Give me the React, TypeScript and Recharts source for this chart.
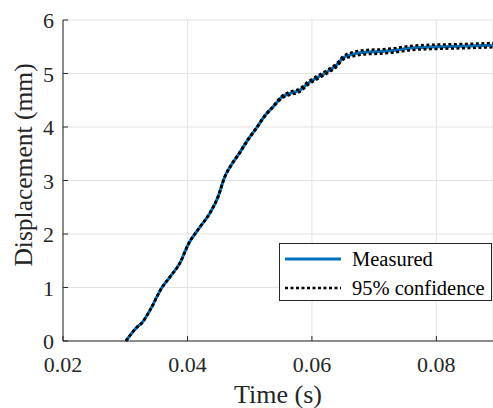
import { CartesianGrid, ComposedChart, Line, XAxis, YAxis } from "recharts";

// time (s)
const time = [
  0.0301, 0.0319, 0.0327, 0.034, 0.0359, 0.0372, 0.0388, 0.0401, 0.042, 0.0436,
  0.0449, 0.046, 0.0471, 0.0484, 0.0497, 0.0512, 0.0525, 0.0537, 0.0552, 0.0565,
  0.0581, 0.0594, 0.0602, 0.0624, 0.064, 0.065, 0.0666, 0.0688, 0.0709, 0.073,
  0.0762, 0.0801, 0.0838, 0.0891,
];
// displacement (mm)
const measured = [
  0, 0.26, 0.34, 0.58, 1.0, 1.2, 1.46, 1.8, 2.13, 2.39,
  2.69, 3.07, 3.3, 3.52, 3.76, 4.0, 4.22, 4.37, 4.56, 4.63,
  4.69, 4.82, 4.88, 5.03, 5.16, 5.29, 5.36, 5.4, 5.41, 5.43,
  5.48, 5.5, 5.51, 5.53,
];
const upper = [
  0, 0.26, 0.34, 0.58, 1.0, 1.2, 1.46, 1.8, 2.13, 2.39,
  2.7, 3.08, 3.31, 3.53, 3.77, 4.01, 4.23, 4.38, 4.58, 4.66,
  4.72, 4.85, 4.91, 5.06, 5.19, 5.32, 5.4, 5.44, 5.45, 5.47,
  5.52, 5.54, 5.55, 5.57,
];
const lower = [
  0, 0.26, 0.34, 0.58, 1.0, 1.2, 1.46, 1.8, 2.13, 2.39,
  2.68, 3.06, 3.29, 3.51, 3.75, 3.99, 4.21, 4.36, 4.54, 4.6,
  4.66, 4.79, 4.85, 5.0, 5.13, 5.26, 5.32, 5.36, 5.37, 5.39,
  5.44, 5.46, 5.47, 5.49,
];
const xTicks = [0.02, 0.04, 0.06, 0.08];
const yTicks = [0, 1, 2, 3, 4, 5, 6];

const data = time.map((t, i) => ({
  t,
  measured: measured[i],
  upper: upper[i],
  lower: lower[i],
}));

const FONT = "Liberation Serif";
const AXIS = "#262626";

// matlab-style ticks: mark points into the plot
const XTick = ({ x, y, payload }: any) => (
  <g>
    <line x1={x} x2={x} y1={y} y2={y - 5} stroke={AXIS} />
    <text x={x} y={y + 31} textAnchor="middle" fill={AXIS} fontSize={22} fontFamily={FONT}>
      {payload.value.toFixed(2)}
    </text>
  </g>
);

const YTick = ({ x, y, payload }: any) => (
  <g>
    <line x1={x} x2={x + 5} y1={y} y2={y} stroke={AXIS} />
    <text x={x - 9} y={y + 8} textAnchor="end" fill={AXIS} fontSize={22} fontFamily={FONT}>
      {payload.value}
    </text>
  </g>
);

const LegendBox = () => (
  <div
    style={{
      position: "absolute",
      left: 279,
      top: 243,
      width: 213,
      height: 58,
      border: "1px solid " + AXIS,
      background: "#fff",
      fontFamily: FONT,
      fontSize: 20.5,
      color: "#000",
      boxSizing: "border-box",
      lineHeight: 1,
    }}
  >
    <div style={{ display: "flex", alignItems: "center", height: 30 }}>
      <svg width={67} height={10} style={{ marginLeft: 5, flex: "none" }}>
        <line x1={0} x2={56} y1={5} y2={5} stroke="#0072BD" strokeWidth={3} />
      </svg>
      <span>Measured</span>
    </div>
    <div style={{ display: "flex", alignItems: "center", height: 28 }}>
      <svg width={67} height={10} style={{ marginLeft: 5, flex: "none" }}>
        <line x1={0} x2={56} y1={5} y2={5} stroke="#000" strokeWidth={2.5} strokeDasharray="3 2.5" />
      </svg>
      <span>95% confidence</span>
    </div>
  </div>
);

const App = () => {
  return (
    <div style={{ position: "absolute", left: 0, top: 0, width: 493, height: 408 }}>
      <ComposedChart
        width={493}
        height={408}
        data={data}
        margin={{ top: 20, right: 0, bottom: 0, left: 0 }}
      >
        <CartesianGrid stroke="#e3e3e3" strokeWidth={1} />
        <XAxis
          dataKey="t"
          type="number"
          domain={[0.02, 0.0891]}
          ticks={xTicks}
          allowDataOverflow
          height={67}
          stroke={AXIS}
          tickLine={false}
          tickSize={0}
          tickMargin={0}
          tick={<XTick />}
          label={({ viewBox }: any) => (
            <text
              x={viewBox.x + viewBox.width / 2}
              y={403}
              textAnchor="middle"
              fill={AXIS}
              fontSize={26}
              fontFamily={FONT}
            >
              Time (s)
            </text>
          )}
        />
        <YAxis
          type="number"
          domain={[0, 6]}
          ticks={yTicks}
          width={63}
          stroke={AXIS}
          tickLine={false}
          tickSize={0}
          tickMargin={0}
          tick={<YTick />}
          label={() => (
            <text
              x={23}
              y={165}
              transform="rotate(-90 23 165)"
              textAnchor="middle"
              dominantBaseline="central"
              fill={AXIS}
              fontSize={25.5}
              fontFamily={FONT}
            >
              Displacement (mm)
            </text>
          )}
        />
        <Line
          type="monotone"
          dataKey="measured"
          stroke="#0072BD"
          strokeWidth={3}
          dot={false}
          isAnimationActive={false}
        />
        <Line
          type="monotone"
          dataKey="upper"
          stroke="#000"
          strokeWidth={2.5}
          strokeDasharray="3 2.5"
          dot={false}
          isAnimationActive={false}
        />
        <Line
          type="monotone"
          dataKey="lower"
          stroke="#000"
          strokeWidth={2.5}
          strokeDasharray="3 2.5"
          dot={false}
          isAnimationActive={false}
        />
      </ComposedChart>
      <LegendBox />
    </div>
  );
};

export default App;
